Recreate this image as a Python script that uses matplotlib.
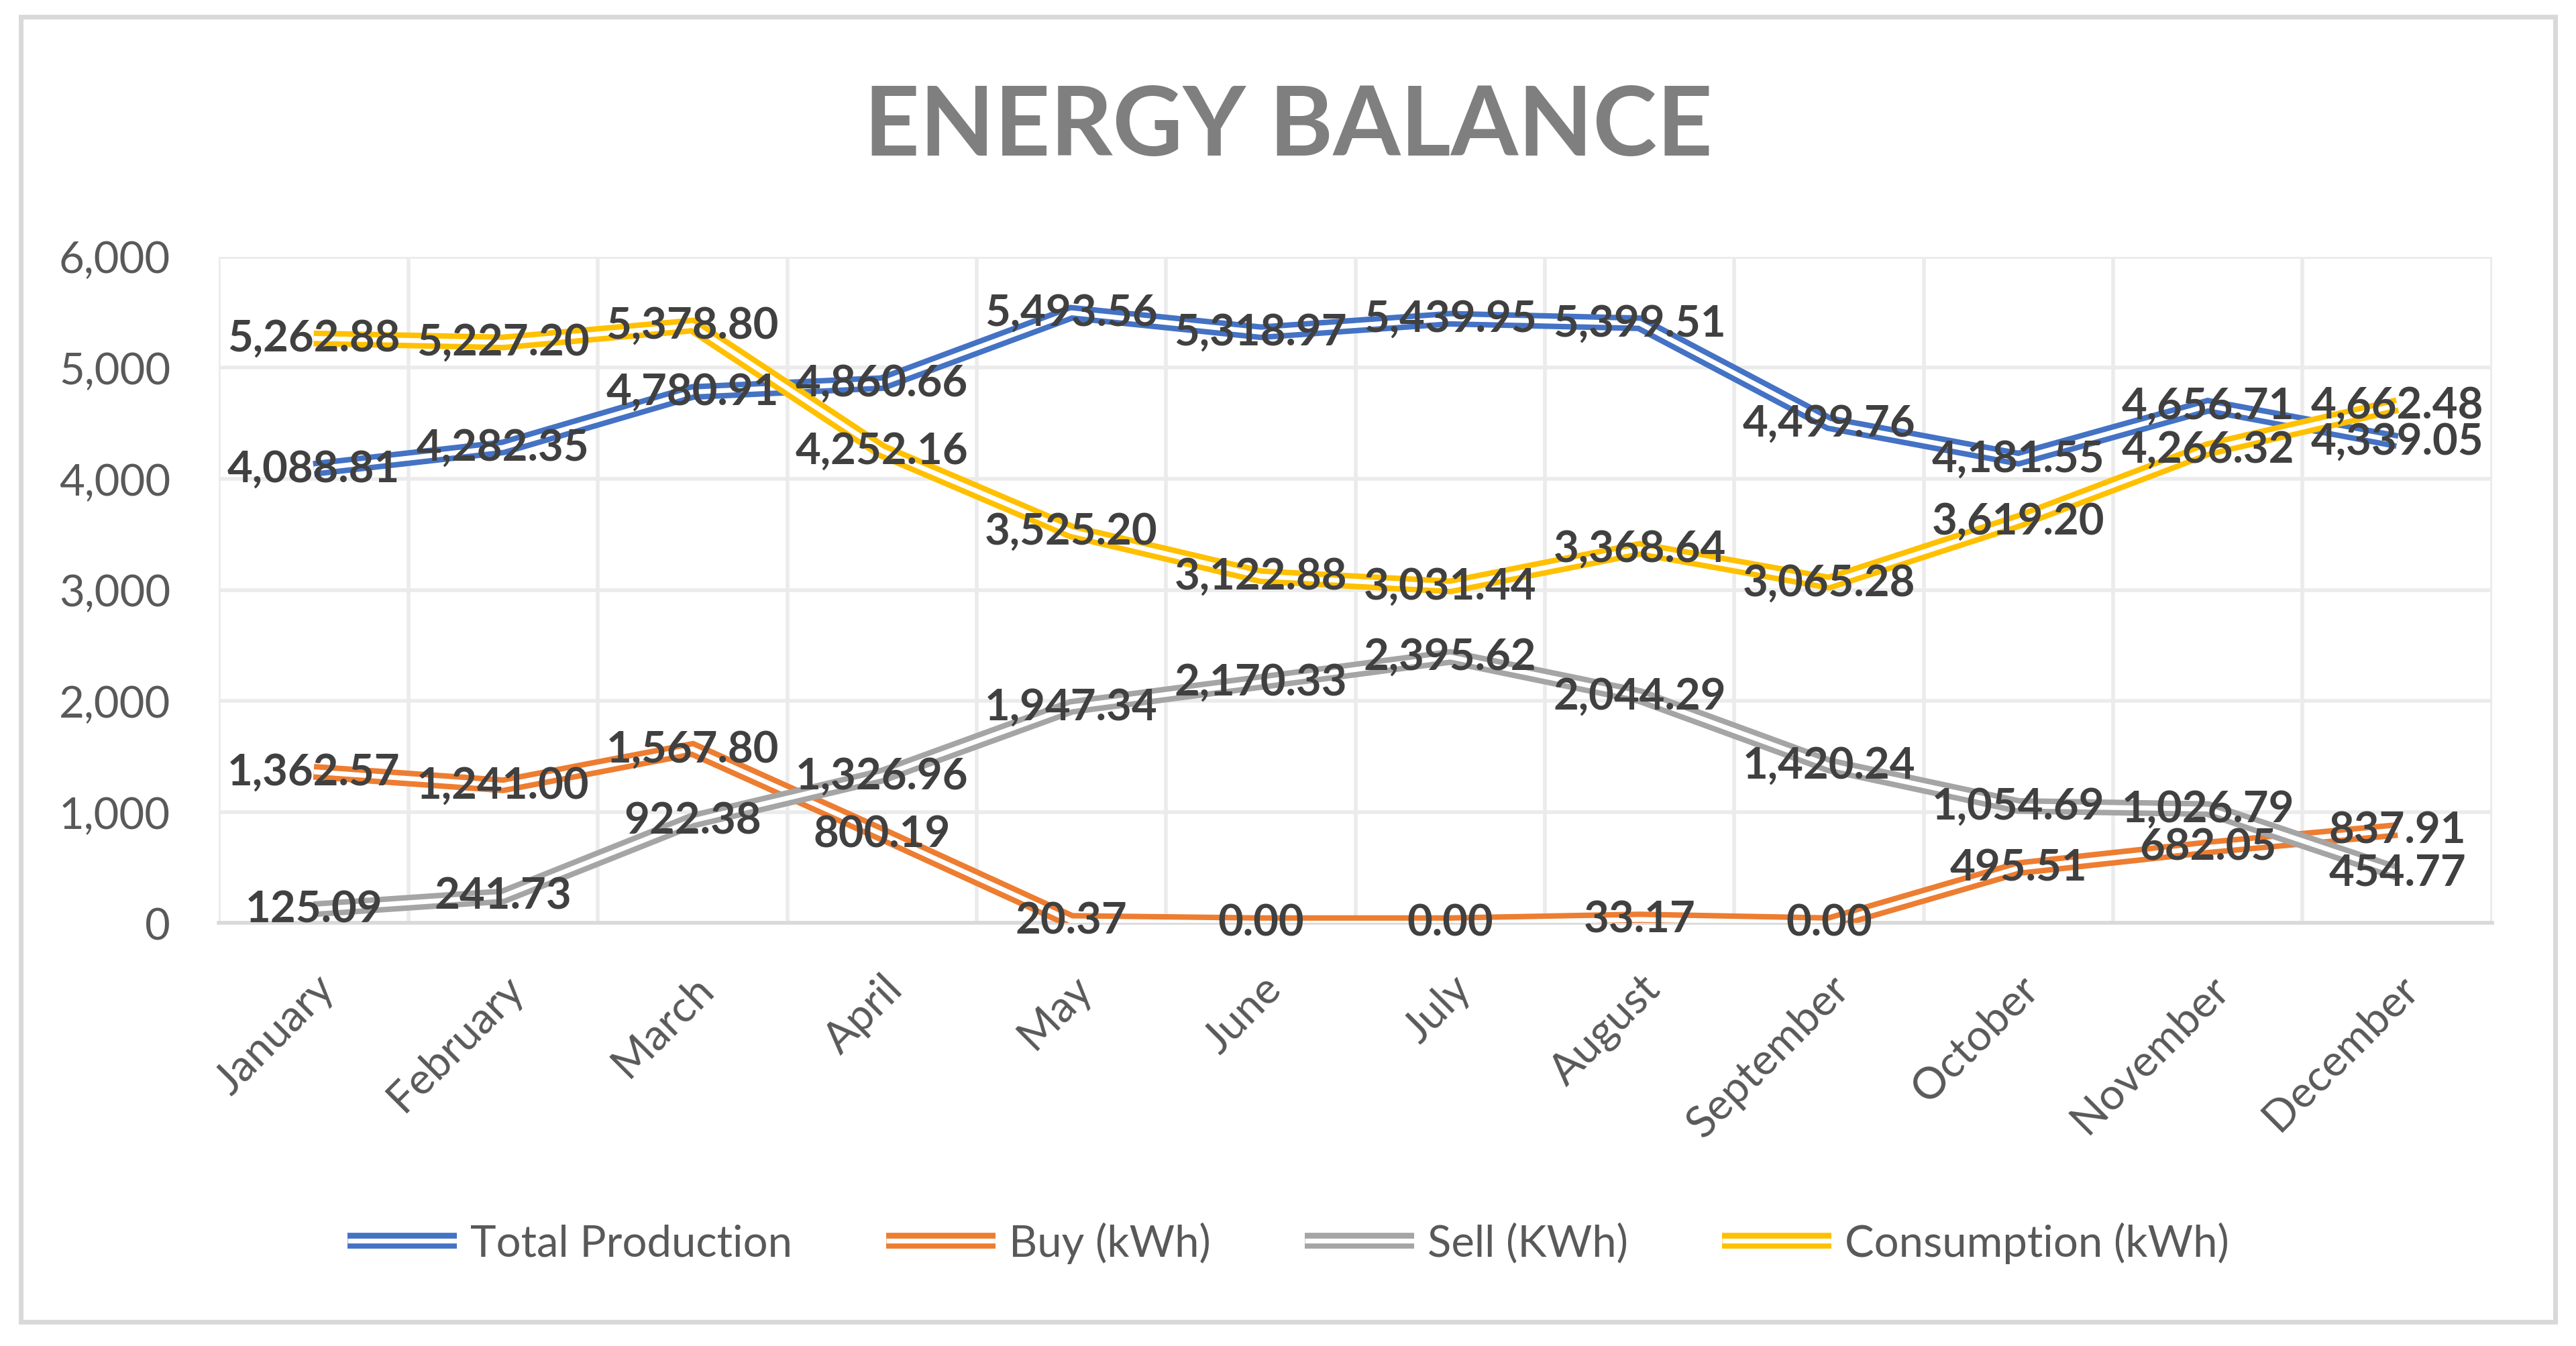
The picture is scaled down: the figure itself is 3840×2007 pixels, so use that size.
import numpy as np
import matplotlib
matplotlib.use("Agg")
import matplotlib.pyplot as plt
import matplotlib.patheffects as pe
from matplotlib.patches import Rectangle
from matplotlib.ticker import FuncFormatter, MultipleLocator

plt.rcParams['font.family'] = ['Lato', 'DejaVu Sans']

months = ['January', 'February', 'March', 'April', 'May', 'June', 'July',
          'August', 'September', 'October', 'November', 'December']
production = [4088.81, 4282.35, 4780.91, 4860.66, 5493.56, 5318.97, 5439.95,
              5399.51, 4499.76, 4181.55, 4656.71, 4339.05]
buy = [1362.57, 1241.00, 1567.80, 800.19, 20.37, 0.00, 0.00,
       33.17, 0.00, 495.51, 682.05, 837.91]
sell = [125.09, 241.73, 922.38, 1326.96, 1947.34, 2170.33, 2395.62,
        2044.29, 1420.24, 1054.69, 1026.79, 454.77]
consumption = [5262.88, 5227.20, 5378.80, 4252.16, 3525.20, 3122.88, 3031.44,
               3368.64, 3065.28, 3619.20, 4266.32, 4662.48]

series_names = ['Total Production', 'Buy (kWh)', 'Sell (KWh)', 'Consumption (kWh)']
series_data = [production, buy, sell, consumption]
colors = ['#4472C4', '#ED7D31', '#A5A5A5', '#FFC000']

fig = plt.figure(figsize=(19.2, 10.04), dpi=200)
ax = fig.add_axes([0.085, 0.314, 0.8824, 0.495])

x = np.arange(len(months))
for name, vals, c in zip(series_names, series_data, colors):
    ax.plot(x, vals, color='white', lw=2.6, label=name, zorder=3,
            solid_joinstyle='miter', solid_capstyle='butt',
            path_effects=[pe.Stroke(linewidth=8.5, foreground=c), pe.Normal()])

for vals in series_data:
    for xi, v in zip(x, vals):
        ax.text(xi, v, f"{v:,.2f}", ha='center', va='center', fontsize=23.5,
                fontweight='bold', color='#404040', zorder=5)

ax.set_xlim(-0.5, len(months) - 0.5)
ax.set_ylim(0, 6000)
ax.yaxis.set_major_locator(MultipleLocator(1000))
ax.yaxis.set_major_formatter(FuncFormatter(lambda v, p: f"{v:,.0f}"))
ax.set_xticks(x)
ax.set_xticklabels(months, rotation=45, ha='right', rotation_mode='anchor')
ax.set_xticks(np.arange(-0.5, len(months)), minor=True)
ax.tick_params(axis='both', which='both', length=0, labelsize=23.5, colors='#595959')
ax.tick_params(axis='x', pad=24)
ax.tick_params(axis='y', pad=26)
ax.grid(axis='y', which='major', color='#EBEBEB', lw=2)
ax.grid(axis='x', which='minor', color='#EBEBEB', lw=2)
ax.set_axisbelow(True)
for s in ['left', 'right', 'top']:
    ax.spines[s].set_visible(False)
ax.spines['bottom'].set_color('#D9D9D9')
ax.spines['bottom'].set_linewidth(2)

fig.text(0.5, 0.905, 'ENERGY BALANCE', ha='center', va='center',
         fontsize=52, fontweight='bold', color='#7F7F7F')

leg = fig.legend(loc='center', bbox_to_anchor=(0.5, 0.077), ncol=4, frameon=False,
                 fontsize=23.5, labelcolor='#595959', handlelength=2.5,
                 handletextpad=0.3, columnspacing=2.15)

fig.patches.append(Rectangle((0.008, 0.018), 0.984, 0.969, transform=fig.transFigure,
                             fill=False, edgecolor='#D9D9D9', lw=2.5))

fig.savefig('out.png', dpi=200, facecolor='white')
